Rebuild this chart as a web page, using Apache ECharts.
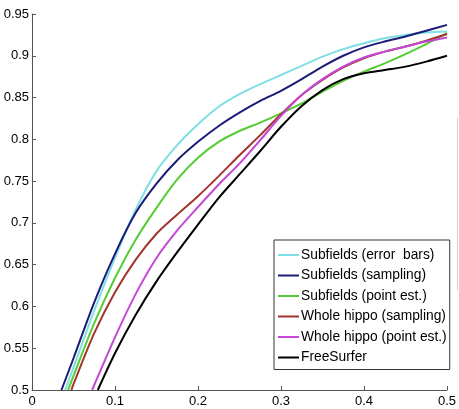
<!DOCTYPE html>
<html>
<head>
<meta charset="utf-8">
<script src="https://cdn.jsdelivr.net/npm/echarts@6/dist/echarts.min.js"></script>
<style>
  html, body { margin: 0; padding: 0; background: #fff; }
  #chart { width: 459px; height: 409px; }
</style>
</head>
<body>
<div id="chart"></div>
<script>
// series names, in legend order
var seriesNames = ['Subfields (error  bars)', 'Subfields (sampling)', 'Subfields (point est.)',
    'Whole hippo (sampling)', 'Whole hippo (point est.)', 'FreeSurfer'];

// [x, y] points
var subfieldsErrorBars = [[0.040,0.5],[0.05,0.527],[0.075,0.595],[0.1,0.658],[0.125,0.716],[0.15,0.762],
    [0.175,0.793],[0.2,0.818],[0.225,0.839],[0.25,0.854],[0.275,0.866],[0.3,0.877],[0.325,0.888],
    [0.35,0.899],[0.375,0.908],[0.4,0.915],[0.425,0.921],[0.45,0.925],[0.475,0.928],[0.5,0.929]];
var subfieldsSampling = [[0.0355,0.5],[0.05,0.538],[0.075,0.605],[0.1,0.663],[0.125,0.712],[0.15,0.747],
    [0.175,0.775],[0.2,0.797],[0.225,0.816],[0.25,0.832],[0.275,0.846],[0.3,0.858],[0.325,0.872],
    [0.35,0.887],[0.375,0.900],[0.4,0.910],[0.425,0.917],[0.45,0.923],[0.475,0.930],[0.5,0.937]];
var subfieldsPointEst = [[0.0435,0.5],[0.05,0.517],[0.075,0.580],[0.1,0.634],[0.125,0.680],[0.15,0.718],
    [0.175,0.752],[0.2,0.778],[0.225,0.797],[0.25,0.810],[0.275,0.820],[0.3,0.831],[0.325,0.843],
    [0.35,0.857],[0.375,0.870],[0.4,0.881],[0.425,0.891],[0.45,0.902],[0.475,0.914],[0.5,0.927]];
var wholeHippoSampling = [[0.0475,0.5],[0.05,0.507],[0.075,0.568],[0.1,0.617],[0.125,0.656],[0.15,0.687],
    [0.175,0.710],[0.2,0.732],[0.225,0.756],[0.25,0.781],[0.275,0.805],[0.3,0.830],[0.325,0.853],
    [0.35,0.871],[0.375,0.886],[0.4,0.897],[0.425,0.905],[0.45,0.911],[0.475,0.918],[0.5,0.926]];
var wholeHippoPointEst = [[0.0726,0.5],[0.075,0.506],[0.1,0.563],[0.125,0.615],[0.15,0.658],
    [0.175,0.691],[0.2,0.719],[0.225,0.746],[0.25,0.771],[0.275,0.799],[0.3,0.828],[0.325,0.853],
    [0.35,0.872],[0.375,0.887],[0.4,0.898],[0.425,0.905],[0.45,0.911],[0.475,0.917],[0.5,0.922]];
var freeSurfer = [[0.0793,0.5],[0.1,0.544],[0.125,0.590],[0.15,0.630],[0.175,0.665],[0.2,0.698],
    [0.225,0.730],[0.25,0.758],[0.275,0.786],[0.3,0.815],[0.325,0.840],[0.35,0.859],[0.375,0.872],
    [0.4,0.879],[0.425,0.883],[0.45,0.887],[0.475,0.893],[0.5,0.900]];

var seriesData = [subfieldsErrorBars, subfieldsSampling, subfieldsPointEst,
    wholeHippoSampling, wholeHippoPointEst, freeSurfer];
var seriesColors = ['#7fdfe2', '#1c1c78', '#55cc33', '#a3352c', '#c447d6', '#000000'];

var font = 'Liberation Sans, Arial, sans-serif';

var myChart = echarts.init(document.getElementById('chart'));

var series = [];
for (var i = 0; i < seriesNames.length; i++) {
    series.push({
        name: seriesNames[i],
        type: 'line',
        smooth: 0.3,
        showSymbol: false,
        symbol: 'none',
        clip: true,
        data: seriesData[i],
        lineStyle: { color: seriesColors[i], width: 2 },
        itemStyle: { color: seriesColors[i] },
        z: 2 + i
    });
}

var option = {
    animation: false,
    backgroundColor: '#fff',
    grid: { left: 32, right: 9, top: 14, bottom: 19, containLabel: false },
    xAxis: {
        type: 'value',
        min: 0, max: 0.5, interval: 0.1,
        axisLine: { lineStyle: { color: '#555', width: 1 } },
        axisTick: { inside: true, length: 4, lineStyle: { color: '#555' } },
        axisLabel: { color: '#000', fontSize: 13, fontFamily: font, margin: 5 },
        splitLine: { show: false }
    },
    yAxis: {
        type: 'value',
        min: 0.5, max: 0.95, interval: 0.05,
        axisLine: { show: true, lineStyle: { color: '#555', width: 1 } },
        axisTick: { show: true, inside: true, length: 4, lineStyle: { color: '#555' } },
        axisLabel: { color: '#000', fontSize: 13, fontFamily: font, margin: 3 },
        splitLine: { show: false }
    },
    legend: {
        data: seriesNames,
        orient: 'vertical',
        left: 274,
        top: 240,
        padding: [8, 3, 5, 4],
        itemGap: 6.5,
        itemWidth: 21,
        itemHeight: 2,
        icon: 'rect',
        backgroundColor: '#fff',
        borderColor: '#333',
        borderWidth: 1,
        borderRadius: 0,
        textStyle: { color: '#000', fontSize: 13.8, fontFamily: font, lineHeight: 14, padding: [0, 0, 0, -3] }
    },
    graphic: [{
        type: 'line',
        shape: { x1: 457.5, y1: 118, x2: 457.5, y2: 290 },
        style: { stroke: '#d0d0d0', lineWidth: 1 }
    }],
    series: series
};

myChart.setOption(option);
</script>
</body>
</html>
